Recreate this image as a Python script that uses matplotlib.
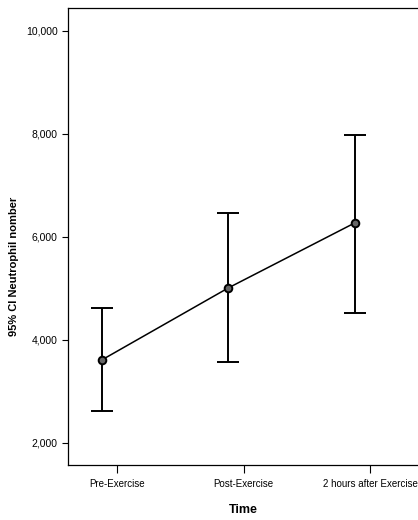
import matplotlib
matplotlib.use("Agg")
import matplotlib.pyplot as plt
from matplotlib.ticker import FuncFormatter

categories = ["Pre-Exercise", "Post-Exercise", "2 hours after Exercise"]
means = [3612, 5010, 6272]
ci_lower = [2621, 3573, 4524]
ci_upper = [4621, 6466, 7980]
yticks = [2000, 4000, 6000, 8000, 10000]

plt.rcParams['font.family'] = ['Liberation Sans', 'DejaVu Sans']

fig = plt.figure(figsize=(4.18, 5.20), dpi=100)
ax = fig.add_axes([0.163, 0.106, 0.837, 0.879])

xpos = [i - 0.12 for i in range(len(categories))]
yerr = [[m - l for m, l in zip(means, ci_lower)], [u - m for m, u in zip(means, ci_upper)]]
ax.errorbar(xpos, means, yerr=yerr, fmt='none', ecolor='black', elinewidth=1.4,
            capsize=8, capthick=1.4, zorder=2)
ax.plot(xpos, means, color='black', lw=1.1, zorder=3)
ax.plot(xpos, means, 'o', ms=5.5, mfc='#666666', mec='black', mew=1.4, zorder=4)

ax.set_xlim(-0.387, 2.38)
ax.set_ylim(1573, 10450)
ax.set_xticks(range(len(categories)))
ax.set_xticklabels(categories, fontsize=7)
ax.set_yticks(yticks)
ax.yaxis.set_major_formatter(FuncFormatter(lambda v, p: f"{int(v):,}"))
ax.tick_params(axis='y', labelsize=7.5, length=4, width=0.8, direction='out')
ax.tick_params(axis='x', length=6, width=0.8, direction='out', pad=4)
for s in ax.spines.values():
    s.set_linewidth(0.9)
ax.spines['right'].set_visible(False)

ax.set_xlabel("Time", fontsize=9, fontweight='bold', labelpad=11)
ax.set_ylabel("95% CI Neutrophil nomber", fontsize=8, fontweight='bold')
ax.yaxis.set_label_coords(-0.14, 0.435)

fig.savefig("out.png", dpi=100)
